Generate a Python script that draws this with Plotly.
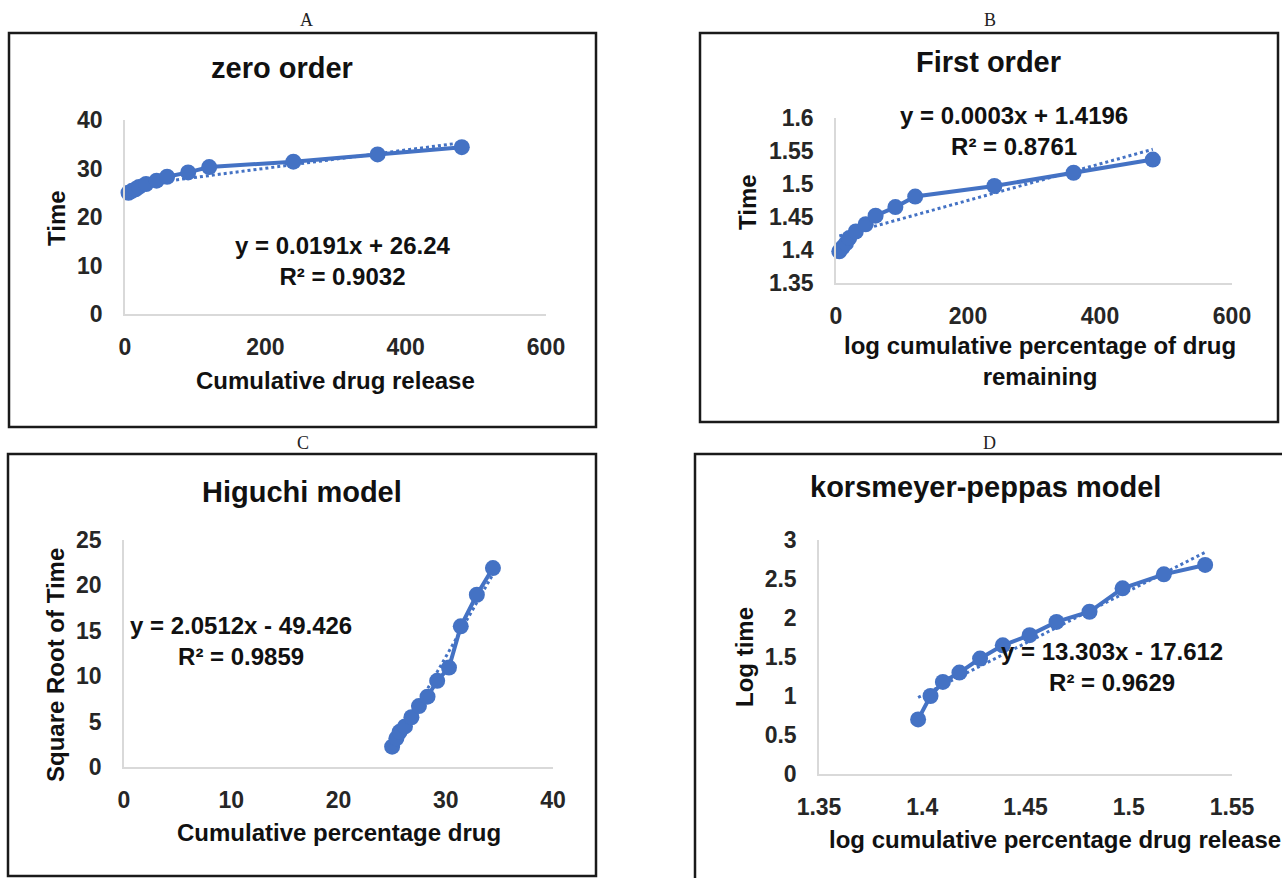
import numpy as np
import plotly.graph_objects as go

W, H = 1282, 878

# ---------------- data ----------------
time_min = [5, 10, 15, 20, 30, 45, 60, 90, 120, 240, 360, 480]
cumulative_release = [25.0, 25.4, 25.7, 26.2, 26.8, 27.5, 28.3, 29.2, 30.3, 31.4, 32.9, 34.4]
log_cumulative = [1.398, 1.404, 1.410, 1.418, 1.428, 1.439, 1.452, 1.465, 1.481, 1.497, 1.517, 1.537]
sqrt_time = [2.24, 3.16, 3.87, 4.47, 5.48, 6.71, 7.75, 9.49, 10.95, 15.49, 18.97, 21.91]
log_time = [0.70, 1.00, 1.18, 1.30, 1.48, 1.65, 1.78, 1.95, 2.08, 2.38, 2.56, 2.68]

panel_labels = ["A", "B", "C", "D"]
panel_titles = ["zero order", "First order", "Higuchi model", "korsmeyer-peppas model"]
x_titles = ["Cumulative drug release",
            "log cumulative percentage of drug<br>remaining",
            "Cumulative percentage drug",
            "log cumulative percentage drug release"]
y_titles = ["Time", "Time", "Square Root of Time", "Log time"]
equations = ["y = 0.0191x + 26.24<br>R² = 0.9032",
             "y = 0.0003x + 1.4196<br>R² = 0.8761",
             "y = 2.0512x - 49.426<br>R² = 0.9859",
             "y = 13.303x - 17.612<br>R² = 0.9629"]

xA_ticks = [0, 200, 400, 600]
yA_ticks = [0, 10, 20, 30, 40]
xB_ticks = [0, 200, 400, 600]
yB_ticks = [1.35, 1.4, 1.45, 1.5, 1.55, 1.6]
yB_ticktext = ["1.35", "1.4", "1.45", "1.5", "1.55", "1.6"]
xC_ticks = [0, 10, 20, 30, 40]
yC_ticks = [0, 5, 10, 15, 20, 25]
xD_ticks = [1.35, 1.4, 1.45, 1.5, 1.55]
xD_ticktext = ["1.35", "1.4", "1.45", "1.5", "1.55"]
yD_ticks = [0, 0.5, 1, 1.5, 2, 2.5, 3]
yD_ticktext = ["0", "0.5", "1", "1.5", "2", "2.5", "3"]

# ---------------- style ----------------
BLUE = "#4472C4"
AXIS_GREY = "#D9D9D9"
FONT = "Liberation Sans, Arial, sans-serif"
SERIF = "Liberation Serif, Times New Roman, serif"


def px(x):
    return x / W


def py(y):
    return 1 - y / H


panels = [
    dict(x=time_min, y=cumulative_release, dx=(125, 546), dy=(120, 314),
         xr=[0, 600], yr=[0, 40], xt=(xA_ticks, [str(v) for v in xA_ticks]),
         yt=(yA_ticks, [str(v) for v in yA_ticks]),
         box=(9, 33, 596, 427), lab=(306, 20), title=(282, 68),
         xtitle=(335, 380), ytitle=(57, 218), eq=(343, 261)),
    dict(x=time_min, y=log_cumulative, dx=(836, 1232), dy=(118, 283),
         xr=[0, 600], yr=[1.35, 1.6], xt=(xB_ticks, [str(v) for v in xB_ticks]),
         yt=(yB_ticks, yB_ticktext),
         box=(700, 33, 1278, 422), lab=(990, 20), title=(988, 62),
         xtitle=(1040, 361), ytitle=(747, 202), eq=(1014, 131)),
    dict(x=cumulative_release, y=sqrt_time, dx=(124, 553), dy=(540, 767),
         xr=[0, 40], yr=[0, 25], xt=(xC_ticks, [str(v) for v in xC_ticks]),
         yt=(yC_ticks, [str(v) for v in yC_ticks]),
         box=(8, 454, 596, 876), lab=(303, 443), title=(302, 492),
         xtitle=(339, 832), ytitle=(55, 665), eq=(241, 641)),
    dict(x=log_cumulative, y=log_time, dx=(819, 1232), dy=(540, 774),
         xr=[1.35, 1.55], yr=[0, 3], xt=(xD_ticks, xD_ticktext),
         yt=(yD_ticks, yD_ticktext),
         box=(695, 454, 1300, 900), lab=(990, 443), title=(985, 487),
         xtitle=(1055, 839), ytitle=(744, 657), eq=(1112, 667)),
]

fig = go.Figure()
annotations = []
shapes = []
layout_axes = {}

for i, p in enumerate(panels):
    n = i + 1
    xa = "x" if n == 1 else f"x{n}"
    ya = "y" if n == 1 else f"y{n}"
    xkey = "xaxis" if n == 1 else f"xaxis{n}"
    ykey = "yaxis" if n == 1 else f"yaxis{n}"

    xs = np.array(p["x"], dtype=float)
    ys = np.array(p["y"], dtype=float)
    slope, intercept = np.polyfit(xs, ys, 1)
    tx = np.array([xs.min(), xs.max()])
    ty = slope * tx + intercept

    fig.add_trace(go.Scatter(x=tx, y=ty, xaxis=xa, yaxis=ya, mode="lines",
                             line=dict(color=BLUE, width=3, dash="dot"),
                             showlegend=False, hoverinfo="skip", cliponaxis=False))
    fig.add_trace(go.Scatter(x=p["x"], y=p["y"], xaxis=xa, yaxis=ya,
                             mode="lines+markers",
                             line=dict(color=BLUE, width=4),
                             marker=dict(color=BLUE, size=16),
                             showlegend=False, cliponaxis=False))

    tick_font = dict(family=FONT, size=23, color="#262626", weight="bold")
    layout_axes[xkey] = dict(
        domain=[px(p["dx"][0]), px(p["dx"][1])], anchor=ya, range=p["xr"],
        tickvals=p["xt"][0], ticktext=p["xt"][1], showgrid=False, zeroline=False,
        showline=True, linecolor=AXIS_GREY, linewidth=1.5, ticks="outside",
        ticklen=12, tickcolor="rgba(0,0,0,0)", tickfont=tick_font, fixedrange=True,
        automargin=False)
    layout_axes[ykey] = dict(
        domain=[py(p["dy"][1]), py(p["dy"][0])], anchor=xa, range=p["yr"],
        tickvals=p["yt"][0], ticktext=p["yt"][1], showgrid=False, zeroline=False,
        showline=True, linecolor=AXIS_GREY, linewidth=1.5, ticks="outside",
        ticklen=16, tickcolor="rgba(0,0,0,0)", tickfont=tick_font, fixedrange=True,
        automargin=False)

    b = p["box"]
    shapes.append(dict(type="rect", xref="paper", yref="paper",
                       x0=px(b[0]), x1=px(b[2]), y0=py(b[3]), y1=py(b[1]),
                       line=dict(color="#1a1a1a", width=2.5), fillcolor="rgba(0,0,0,0)"))

    annotations.append(dict(text=panel_labels[i], x=px(p["lab"][0]), y=py(p["lab"][1]),
                            xref="paper", yref="paper", showarrow=False,
                            xanchor="center", yanchor="middle",
                            font=dict(family=SERIF, size=18, color="#222222")))
    annotations.append(dict(text=panel_titles[i], x=px(p["title"][0]), y=py(p["title"][1]),
                            xref="paper", yref="paper", showarrow=False,
                            xanchor="center", yanchor="middle",
                            font=dict(family=FONT, size=29, color="#111111", weight="bold")))
    annotations.append(dict(text=x_titles[i], x=px(p["xtitle"][0]), y=py(p["xtitle"][1]),
                            xref="paper", yref="paper", showarrow=False,
                            xanchor="center", yanchor="middle",
                            font=dict(family=FONT, size=24, color="#111111", weight="bold")))
    annotations.append(dict(text=y_titles[i], x=px(p["ytitle"][0]), y=py(p["ytitle"][1]),
                            xref="paper", yref="paper", showarrow=False, textangle=-90,
                            xanchor="center", yanchor="middle",
                            font=dict(family=FONT, size=24, color="#111111", weight="bold")))
    annotations.append(dict(text=equations[i], x=px(p["eq"][0]), y=py(p["eq"][1]),
                            xref="paper", yref="paper", showarrow=False,
                            xanchor="center", yanchor="middle", align="center",
                            font=dict(family=FONT, size=24, color="#111111", weight="bold")))

fig.update_layout(
    width=W, height=H, autosize=False,
    margin=dict(l=0, r=0, t=0, b=0, pad=0, autoexpand=False),
    paper_bgcolor="white", plot_bgcolor="white",
    annotations=annotations, shapes=shapes,
    showlegend=False,
    **layout_axes,
)

fig.write_html("out.html", config={"displayModeBar": False},
               post_script="document.body.style.margin='0';document.body.style.overflow='hidden';")
